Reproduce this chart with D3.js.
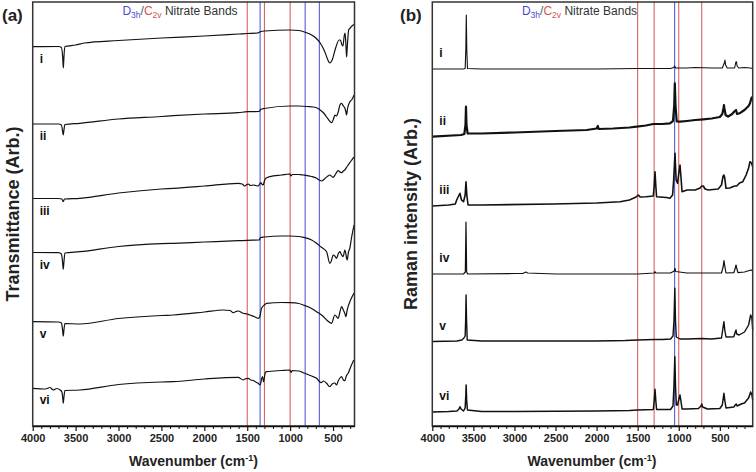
<!DOCTYPE html>
<html><head><meta charset="utf-8">
<script src="https://cdn.jsdelivr.net/npm/d3@7/dist/d3.min.js"></script>
<style>body{margin:0;background:#fff}svg{display:block}</style>
</head><body>
<svg id="chart" width="756" height="472"></svg>
<script>
// ---------- data ----------
const traceNames = ["i","ii","iii","iv","v","vi"];
const majorTicks = [4000,3500,3000,2500,2000,1500,1000,500];
const ftirBandsD3h = [1350, 825, 660];
const ftirBandsC2v = [1500, 1300, 1000];
const ramanBandsD3h = [1050];
const ramanBandsC2v = [1500, 1300, 1000, 720];

// FTIR transmittance traces (wavenumber, arbitrary units incl. stacking offset)
const ftirI = [[4000,379.3],[3700,379.5],[3665,378.5],[3650,368],[3643,358],[3636,369],[3625,379.5],[3500,381],[3400,383],[3000,385.5],[2500,388],[2000,390],[1600,392],[1500,392.5],[1380,393],[1355,394],[1340,394.5],[1300,395],[1000,396],[900,395.5],[850,394.5],[800,393],[750,391],[700,388],[650,383],[600,375],[560,366],[540,363],[510,366],[470,378],[430,386],[415,386],[395,381],[385,380],[370,390],[360,393],[350,381],[342,369],[335,378],[318,396],[300,398],[280,400],[255,401.5]];
const ftirII = [[4000,302],[3700,302],[3665,301],[3652,295],[3644,291],[3636,296],[3625,301.5],[3450,302.7],[3000,307],[2500,309.5],[2362,310.3],[2000,312],[1605,313.3],[1500,314.3],[1360,314.5],[1345,316.5],[1300,317.5],[1000,320],[900,320],[800,319.5],[700,318.5],[650,316],[600,312],[575,309],[540,305],[517,303.3],[495,307],[479,311],[460,310],[440,314],[420,321],[401,322.7],[380,320],[363,318],[350,314],[343,311],[330,318],[304,324.3],[280,326.5],[255,331]];
const ftirIII = [[4000,227.5],[3700,227.5],[3660,227],[3644,224.3],[3630,227],[3450,227.7],[3000,233],[2500,237],[2362,237.7],[2000,240],[1605,242.7],[1560,242],[1527,240],[1505,241.5],[1489,242],[1460,240.5],[1431,241],[1400,240.5],[1372,240],[1355,242],[1344,243.3],[1330,242],[1314,241],[1300,245],[1283,247.7],[1236,249.3],[1100,251],[1003,252],[990,250],[975,251.5],[900,251.5],[848,251],[750,249.5],[692,247.7],[660,246],[634,245],[600,247],[560,250],[538,251],[499,248.7],[470,252],[440,255.3],[420,254],[401,253.3],[380,255],[363,256],[340,259],[324,261],[290,265],[258,269]];
const ftirIV = [[4000,173.5],[3700,173.3],[3665,172],[3652,164],[3644,156.7],[3636,164],[3625,173],[3450,174.3],[3000,179.5],[2500,182.3],[2362,182.7],[2000,184],[1605,185.3],[1500,185.7],[1360,186],[1345,188.5],[1300,189],[1100,190],[1000,190],[900,189.5],[848,188.7],[750,186],[692,182.7],[640,179],[575,174.3],[538,162.7],[520,165],[499,171],[480,170],[460,167.7],[440,172],[421,174.3],[400,171],[382,169.3],[363,176],[352,173],[343,168],[335,166],[320,174],[304,178],[285,188],[270,195],[255,201]];
const ftirV = [[4000,104.3],[3700,104],[3665,103],[3652,96],[3644,90],[3636,96],[3625,102.5],[3450,102],[3000,107.5],[2500,110.5],[2362,111],[2000,114],[1780,116],[1700,115.5],[1663,113.3],[1630,114.5],[1605,115],[1547,112.7],[1500,112],[1469,111],[1420,109.5],[1372,107.7],[1355,109],[1333,117.7],[1300,121],[1275,122.7],[1100,123.5],[1003,123.3],[900,122.5],[848,121],[750,117.5],[692,114.3],[620,110],[575,106],[517,102.7],[479,111],[440,107.7],[420,114],[401,119.3],[380,116],[363,112.7],[350,109.3],[335,116],[304,124.3],[280,129],[255,133]];
const ftirVI = [[4000,37.7],[3850,37],[3800,38.5],[3760,36],[3720,37.5],[3680,36],[3660,34],[3650,28],[3644,22.7],[3636,29],[3625,35.5],[3450,36],[3000,41.5],[2500,44],[2362,44.3],[2000,47],[1605,48.7],[1547,46],[1520,47.2],[1489,47.7],[1460,46],[1431,45.5],[1400,44],[1372,42.7],[1350,41],[1330,48],[1321,49.3],[1310,44.3],[1290,53],[1275,54.3],[1100,55.5],[1003,56],[990,53.5],[975,55.5],[900,55],[848,53.3],[750,50],[692,47.7],[640,43.3],[610,45],[575,42.7],[538,39.3],[510,42],[479,43],[460,41],[440,45],[420,48],[401,49.3],[380,46],[363,45.3],[345,50],[324,52.7],[290,60],[258,66]];

// Raman traces (wavenumber, arbitrary intensity incl. stacking offset)
const ramanI = [[4000,357],[3620,357],[3600,357.5],[3592,376],[3586,411],[3580,376],[3572,357.5],[3400,357],[3000,357],[2500,357],[2000,357],[1500,357.5],[1100,357.5],[1060,358.5],[1050,360],[1040,358],[900,358],[800,358.5],[600,358],[470,358],[445,363],[438,366],[430,361],[410,358],[320,358],[305,364],[298,364.3],[290,360],[270,358],[200,358.5],[130,358],[100,357.5]];
const ramanII = [[4000,289.3],[3650,291],[3610,292],[3596,301],[3590,319.3],[3584,301],[3570,292.5],[3400,292.5],[3000,293.5],[2500,295],[2120,296],[2000,297.5],[1985,300],[1975,297],[1800,297.5],[1600,298.5],[1512,299.3],[1400,300.5],[1310,302],[1200,302],[1107,302.7],[1070,305],[1055,321],[1048,342.7],[1040,321],[1025,304.5],[985,304.3],[900,305],[800,306],[701,306.7],[600,307.5],[500,309],[470,312],[455,318],[450,321],[445,318],[430,311],[400,309.3],[350,312],[318,315],[303,316],[290,312],[260,312.7],[200,316],[150,320],[133,322.7],[115,328],[100,329.3]];
const ramanIII = [[4000,220],[3800,221],[3720,222],[3703,226],[3680,230],[3663,232.7],[3645,226],[3620,224.3],[3600,231],[3590,244.3],[3580,231],[3565,221],[3400,221],[2527,222],[2000,223],[1715,224.3],[1600,226],[1553,227.7],[1520,229],[1492,231],[1470,229],[1400,229.3],[1310,230],[1298,241],[1289,254.3],[1280,241],[1270,229.3],[1150,228.5],[1107,227.7],[1075,231],[1062,246],[1046,272.7],[1032,246],[1015,242.7],[998,254],[985,261],[975,251],[960,234.3],[900,236],[800,236],[740,238],[720,240],[701,240],[680,237],[640,236],[520,237],[480,241],[460,250],[450,251],[440,248],[425,237.7],[380,238],[320,240],[295,240],[260,243],[220,244.3],[180,251],[150,258],[133,264.3],[115,263],[100,259.3]];
const ramanIV = [[4000,152],[3620,152],[3598,154],[3590,204],[3582,154],[3570,152],[3000,152.5],[2900,152.5],[2860,154],[2840,153],[2500,152],[2000,152],[1500,152],[1300,153],[1289,154.3],[1280,153],[1100,153],[1055,155],[1046,157.7],[1038,154.5],[900,153],[720,153],[480,153],[460,159],[450,165.3],[440,160],[425,153],[330,153.3],[312,158],[303,161],[295,158],[280,153.3],[200,154],[120,156],[100,155]];
const ramanV = [[4000,84.5],[3700,85],[3640,86],[3615,88],[3600,90],[3594,106],[3589,131],[3583,106],[3575,86],[3400,85],[3000,85],[2000,85],[1650,85.5],[1500,86],[1300,86.5],[1200,86.5],[1100,87],[1070,90],[1058,106],[1048,137.7],[1040,106],[1030,89],[985,87],[900,87],[720,87.5],[600,87],[480,88],[462,98],[450,104.3],[440,96],[425,89],[330,89.3],[312,94],[303,96],[295,92],[265,91],[200,94],[150,101],[125,111],[110,108],[100,96]];
const ramanVI = [[4000,14],[3800,14.5],[3700,15],[3675,17],[3663,19.3],[3650,17],[3620,15],[3600,18],[3592,31],[3588,41],[3582,26],[3572,16],[3400,14.5],[3000,14.5],[2000,15],[1600,15.5],[1500,16],[1310,16.5],[1298,26],[1289,36.7],[1280,26],[1270,16.5],[1100,16.5],[1070,20],[1058,41],[1048,69.3],[1040,41],[1030,21],[1015,21],[995,28],[985,31],[975,26],[960,17],[900,17],[760,17.5],[730,20],[720,22],[710,19],[650,17],[500,17.5],[470,21],[458,28],[450,32.7],[440,26],[425,18],[330,19],[312,21],[300,22],[290,20],[240,22],[200,23],[150,28],[125,34],[110,31],[100,26]];

const ftirTraces = [ftirI, ftirII, ftirIII, ftirIV, ftirV, ftirVI];
const ramanTraces = [ramanI, ramanII, ramanIII, ramanIV, ramanV, ramanVI];

// ---------- drawing ----------
const FONT = "'Liberation Sans', Arial, Helvetica, sans-serif";
const svg = d3.select("#chart");
const TOP = 2, BOTTOM = 426;
const BLUE = "#4b4bd2", RED = "#d25454";

function drawPanel(opt) {
  const x = d3.scaleLinear().domain(opt.domain).range(opt.range);
  const y = d3.scaleLinear().domain([0, 424]).range([BOTTOM, TOP]);
  const g = svg.append("g");

  g.selectAll("line.red").data(opt.red).join("line")
    .attr("x1", d => x(d)).attr("x2", d => x(d)).attr("y1", TOP).attr("y2", BOTTOM)
    .attr("stroke", RED).attr("stroke-width", 1);
  g.selectAll("line.blue").data(opt.blue).join("line")
    .attr("x1", d => x(d)).attr("x2", d => x(d)).attr("y1", TOP).attr("y2", BOTTOM)
    .attr("stroke", BLUE).attr("stroke-width", 1);

  const line = d3.line().x(d => x(d[0])).y(d => y(d[1])).curve(opt.curve);
  g.selectAll("path.trace").data(opt.traces).join("path")
    .attr("class", "trace")
    .attr("d", line).attr("fill", "none").attr("stroke", "#111")
    .attr("stroke-width", (d, i) => opt.widths[i]).attr("stroke-linejoin", "round");

  g.selectAll("text.tl").data(opt.traces).join("text")
    .attr("x", opt.range[0] + 7)
    .attr("y", d => y(d[0][1]) + opt.labelDy)
    .attr("font-family", FONT).attr("font-size", 12).attr("font-weight", "bold").attr("fill", "#111")
    .text((d, i) => traceNames[i]);

  g.append("rect").attr("x", opt.range[0]).attr("y", TOP)
    .attr("width", opt.range[1] - opt.range[0]).attr("height", BOTTOM - TOP)
    .attr("fill", "none").attr("stroke", "#333").attr("stroke-width", 1.5);

  const minor = d3.range(4000, opt.domain[1], -100).filter(v => !majorTicks.includes(v));
  g.append("g").attr("transform", `translate(0,${BOTTOM})`)
    .call(d3.axisBottom(x).tickValues(minor).tickSize(3).tickFormat(""))
    .call(a => a.select(".domain").remove())
    .call(a => a.selectAll("line").attr("stroke", "#111").attr("stroke-width", 1));
  g.append("g").attr("transform", `translate(0,${BOTTOM})`)
    .call(d3.axisBottom(x).tickValues(majorTicks).tickFormat(d3.format("d"))
      .tickSize(5).tickPadding(3).tickSizeOuter(0))
    .call(a => a.select(".domain").attr("stroke", "#111").attr("stroke-width", 1.5))
    .call(a => a.selectAll("line").attr("stroke", "#111").attr("stroke-width", 1.2))
    .call(a => a.selectAll("text").attr("font-family", FONT).attr("font-size", 11)
      .attr("font-weight", "bold").attr("fill", "#222"));

  const xt = g.append("text").attr("x", opt.xTitleX).attr("y", 466).attr("text-anchor", "middle")
    .attr("font-family", FONT).attr("font-size", 14).attr("font-weight", "bold").attr("fill", "#222");
  xt.append("tspan").text("Wavenumber (cm");
  xt.append("tspan").attr("dy", -5).attr("font-size", 9).text("-1");
  xt.append("tspan").attr("dy", 5).text(")");

  g.append("text").attr("transform", `translate(${opt.yTitleX},214) rotate(-90)`)
    .attr("text-anchor", "middle").attr("font-family", FONT).attr("font-size", 18)
    .attr("font-weight", "bold").attr("fill", "#222").text(opt.yTitle);

  g.append("text").attr("x", opt.panelX).attr("y", 21).attr("font-family", FONT)
    .attr("font-size", 17).attr("font-weight", "bold").attr("fill", "#222").text(opt.panel);

  const h = g.append("text").attr("x", opt.headX).attr("y", 15).attr("text-anchor", "middle")
    .attr("font-family", FONT).attr("font-size", 12).attr("fill", "#333");
  h.append("tspan").attr("fill", BLUE).text("D");
  h.append("tspan").attr("fill", BLUE).attr("dy", 3).attr("font-size", 8.5).text("3h");
  h.append("tspan").attr("dy", -3).attr("fill", "#555").text("/");
  h.append("tspan").attr("fill", RED).text("C");
  h.append("tspan").attr("fill", RED).attr("dy", 3).attr("font-size", 8.5).text("2v");
  h.append("tspan").attr("dy", -3).text(" Nitrate Bands");
}

drawPanel({
  domain: [4000, 250], range: [32.7, 354.5],
  traces: ftirTraces, widths: [1.2, 1.2, 1.2, 1.2, 1.2, 1.2],
  curve: d3.curveMonotoneX, blue: ftirBandsD3h, red: ftirBandsC2v,
  labelDy: 16, xTitleX: 193.5, yTitleX: 19, yTitle: "Transmittance (Arb.)",
  panel: "(a)", panelX: 2, headX: 180
});
drawPanel({
  domain: [4000, 100], range: [432.3, 752.7],
  traces: ramanTraces, widths: [1.1, 2.2, 1.6, 1.2, 1.4, 1.5],
  curve: d3.curveLinear, blue: ramanBandsD3h, red: ramanBandsC2v,
  labelDy: -12, xTitleX: 592, yTitleX: 417, yTitle: "Raman intensity (Arb.)",
  panel: "(b)", panelX: 400, headX: 579.5
});
</script>
</body></html>
